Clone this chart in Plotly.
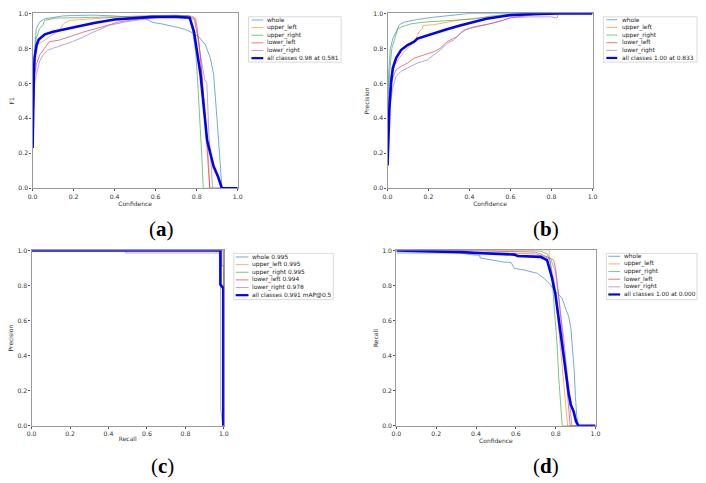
import plotly.graph_objects as go

W, H = 706, 483

CLASSES = ['whole', 'upper_left', 'upper_right', 'lower_left', 'lower_right']
COLORS = ['#1f77b4', '#ff7f0e', '#2ca02c', '#d62728', '#9467bd']
ALL_COLOR = '#0000ff'

# (a) F1 - confidence
f1_whole_x = [0, 0.003, 0.005, 0.01, 0.018, 0.034, 0.058, 0.1, 0.146, 0.2, 0.3, 0.4, 0.5, 0.55, 0.587, 0.63, 0.699, 0.74, 0.771, 0.811, 0.843, 0.867, 0.883, 0.891, 0.899, 0.907, 0.915, 0.923, 1.0]
f1_whole_y = [0.3, 0.5, 0.65, 0.8, 0.913, 0.95, 0.969, 0.975, 0.985, 0.988, 0.99, 0.985, 0.975, 0.97, 0.948, 0.94, 0.922, 0.91, 0.894, 0.866, 0.819, 0.744, 0.65, 0.537, 0.406, 0.274, 0.143, 0.0, 0.0]
f1_uleft_x = [0, 0.005, 0.01, 0.02, 0.05, 0.1, 0.13, 0.14, 0.15, 0.18, 0.3, 0.5, 0.7, 0.77, 0.787, 0.795, 0.811, 0.827, 0.84, 0.851, 0.859, 0.864, 1.0]
f1_uleft_y = [0.3, 0.6, 0.75, 0.82, 0.84, 0.88, 0.9, 0.92, 0.94, 0.96, 0.97, 0.985, 0.99, 0.985, 0.979, 0.931, 0.838, 0.65, 0.462, 0.274, 0.143, 0.0, 0.0]
f1_uright_x = [0, 0.005, 0.0096, 0.018, 0.034, 0.05, 0.058, 0.114, 0.2, 0.4, 0.6, 0.7, 0.763, 0.779, 0.795, 0.803, 0.811, 0.819, 0.827, 0.832, 1.0]
f1_uright_y = [0.3, 0.6, 0.744, 0.856, 0.913, 0.931, 0.96, 0.973, 0.975, 0.98, 0.985, 0.99, 0.988, 0.913, 0.781, 0.65, 0.5, 0.312, 0.143, 0.0, 0.0]
f1_lleft_x = [0, 0.005, 0.01, 0.018, 0.034, 0.058, 0.082, 0.13, 0.178, 0.25, 0.338, 0.418, 0.499, 0.6, 0.7, 0.77, 0.795, 0.803, 0.819, 0.835, 0.846, 0.856, 0.864, 1.0]
f1_lleft_y = [0.3, 0.55, 0.65, 0.706, 0.762, 0.8, 0.838, 0.847, 0.866, 0.894, 0.922, 0.95, 0.965, 0.975, 0.985, 0.98, 0.969, 0.913, 0.744, 0.5, 0.312, 0.143, 0.0, 0.0]
f1_lright_x = [0, 0.005, 0.01, 0.018, 0.034, 0.05, 0.074, 0.098, 0.146, 0.194, 0.25, 0.29, 0.338, 0.37, 0.466, 0.514, 0.6, 0.7, 0.77, 0.79, 0.8, 0.82, 0.84, 0.85, 0.855, 0.86, 0.87, 0.878, 1.0]
f1_lright_y = [0.3, 0.5, 0.6, 0.65, 0.725, 0.762, 0.79, 0.8, 0.819, 0.838, 0.866, 0.89, 0.913, 0.931, 0.954, 0.963, 0.975, 0.98, 0.975, 0.96, 0.9, 0.75, 0.62, 0.6, 0.45, 0.3, 0.15, 0.0, 0.0]
f1_all_x = [0, 0.003, 0.006, 0.01, 0.02, 0.03, 0.06, 0.1, 0.2, 0.3, 0.4, 0.5, 0.581, 0.7, 0.766, 0.787, 0.8, 0.819, 0.835, 0.851, 0.867, 0.883, 0.904, 0.923, 1.0]
f1_all_y = [0.23, 0.5, 0.65, 0.75, 0.82, 0.85, 0.88, 0.895, 0.92, 0.945, 0.965, 0.975, 0.98, 0.98, 0.975, 0.894, 0.79, 0.65, 0.462, 0.274, 0.199, 0.124, 0.068, 0.0, 0.0]

# (b) Precision - confidence
p_whole_x = [0, 0.002, 0.005, 0.014, 0.026, 0.042, 0.058, 0.082, 0.146, 0.226, 0.306, 0.402, 1.0]
p_whole_y = [0.13, 0.45, 0.65, 0.8, 0.856, 0.894, 0.935, 0.95, 0.965, 0.978, 0.988, 1.0, 1.0]
p_uleft_x = [0, 0.005, 0.018, 0.034, 0.058, 0.082, 0.114, 0.138, 0.146, 0.154, 0.17, 0.173, 0.226, 0.306, 0.338, 0.434, 0.5, 0.6, 0.7, 1.0]
p_uleft_y = [0.13, 0.4, 0.65, 0.706, 0.744, 0.781, 0.819, 0.847, 0.875, 0.894, 0.913, 0.931, 0.935, 0.95, 0.96, 0.973, 0.98, 0.99, 1.0, 1.0]
p_uright_x = [0, 0.005, 0.0096, 0.021, 0.034, 0.046, 0.05, 0.066, 0.114, 0.178, 0.306, 0.434, 0.499, 0.6, 0.7, 1.0]
p_uright_y = [0.13, 0.45, 0.65, 0.8, 0.856, 0.894, 0.91, 0.922, 0.94, 0.95, 0.96, 0.969, 0.984, 0.995, 1.0, 1.0]
p_lleft_x = [0, 0.005, 0.0096, 0.026, 0.042, 0.066, 0.098, 0.13, 0.178, 0.226, 0.258, 0.29, 0.338, 0.37, 0.418, 0.498, 0.5625, 0.6, 0.7, 0.8, 1.0]
p_lleft_y = [0.13, 0.4, 0.556, 0.631, 0.678, 0.697, 0.716, 0.744, 0.762, 0.781, 0.8, 0.838, 0.866, 0.903, 0.922, 0.94, 0.96, 0.975, 0.99, 1.0, 1.0]
p_lright_x = [0, 0.005, 0.0096, 0.026, 0.042, 0.066, 0.098, 0.146, 0.194, 0.226, 0.258, 0.29, 0.322, 0.354, 0.386, 0.434, 0.498, 0.5625, 0.6, 0.7, 0.8, 0.827, 0.833, 1.0]
p_lright_y = [0.13, 0.35, 0.462, 0.575, 0.64, 0.669, 0.687, 0.716, 0.734, 0.762, 0.79, 0.828, 0.847, 0.884, 0.909, 0.922, 0.94, 0.96, 0.975, 0.98, 0.98, 0.973, 1.0, 1.0]
p_all_x = [0, 0.002, 0.005, 0.0096, 0.018, 0.026, 0.042, 0.066, 0.098, 0.13, 0.146, 0.194, 0.242, 0.29, 0.354, 0.418, 0.482, 0.5625, 0.6, 0.7, 0.833, 1.0]
p_all_y = [0.13, 0.2, 0.312, 0.462, 0.612, 0.687, 0.744, 0.79, 0.819, 0.838, 0.856, 0.875, 0.89, 0.909, 0.931, 0.95, 0.969, 0.984, 0.99, 0.995, 1.0, 1.0]

# (c) Precision - recall
pr_whole_x = [0, 0.995, 1.0, 1.0]
pr_whole_y = [1.0, 1.0, 1.0, 0.0]
pr_uleft_x = [0, 1.0, 1.0]
pr_uleft_y = [1.0, 1.0, 0.0]
pr_uright_x = [0, 1.0, 1.0]
pr_uright_y = [1.0, 1.0, 0.0]
pr_lleft_x = [0, 0.99, 0.99, 1.0, 1.0]
pr_lleft_y = [1.0, 1.0, 0.912, 0.912, 0.0]
pr_lright_x = [0, 0.49, 0.49, 0.983, 0.983, 0.995]
pr_lright_y = [1.0, 1.0, 0.985, 0.985, 0.1, 0.0]
pr_all_x = [0, 0.982, 0.982, 0.99, 0.997, 0.997]
pr_all_y = [1.0, 1.0, 0.805, 0.79, 0.785, 0.0]

# (d) Recall - confidence
r_whole_x = [0, 0.32, 0.37, 0.419, 0.42, 0.485, 0.535, 0.576, 0.593, 0.642, 0.708, 0.741, 0.766, 0.799, 0.832, 0.848, 0.865, 0.876, 0.886, 0.893, 0.899, 0.906, 0.914, 1.0]
r_whole_y = [0.985, 0.985, 0.976, 0.972, 0.957, 0.944, 0.934, 0.931, 0.897, 0.888, 0.869, 0.841, 0.813, 0.766, 0.729, 0.672, 0.625, 0.56, 0.429, 0.316, 0.167, 0.054, 0.0, 0.0]
r_uleft_x = [0, 0.768, 0.768, 0.79, 0.807, 0.823, 0.837, 0.848, 0.86, 1.0]
r_uleft_y = [1.0, 1.0, 0.95, 0.841, 0.653, 0.466, 0.279, 0.129, 0.0, 0.0]
r_uright_x = [0, 0.6, 0.7, 0.724, 0.757, 0.774, 0.782, 0.794, 0.807, 0.815, 0.823, 0.833, 1.0]
r_uright_y = [1.0, 1.0, 0.998, 0.995, 0.981, 0.934, 0.841, 0.653, 0.466, 0.279, 0.129, 0.0, 0.0]
r_lleft_x = [0, 0.3, 0.5, 0.7, 0.757, 0.79, 0.799, 0.815, 0.832, 0.848, 0.86, 0.873, 1.0]
r_lleft_y = [1.0, 1.0, 0.995, 0.99, 0.963, 0.944, 0.897, 0.747, 0.541, 0.316, 0.167, 0.0, 0.0]
r_lright_x = [0, 0.3, 0.5, 0.7, 0.774, 0.799, 0.823, 0.84, 0.856, 0.87, 0.881, 1.0]
r_lright_y = [1.0, 0.995, 0.985, 0.98, 0.953, 0.878, 0.653, 0.504, 0.316, 0.148, 0.0, 0.0]
r_all_x = [0, 0.2, 0.33, 0.4, 0.51, 0.593, 0.609, 0.724, 0.757, 0.782, 0.799, 0.815, 0.832, 0.848, 0.865, 0.876, 0.89, 0.902, 0.914, 1.0]
r_all_y = [1.0, 0.995, 0.99, 0.985, 0.981, 0.976, 0.968, 0.963, 0.944, 0.841, 0.747, 0.616, 0.466, 0.316, 0.185, 0.12, 0.082, 0.026, 0.0, 0.0]

f1_labels = CLASSES + ['all classes 0.98 at 0.581']
p_labels = CLASSES + ['all classes 1.00 at 0.833']
pr_labels = ['whole 0.995', 'upper_left 0.995', 'upper_right 0.995', 'lower_left 0.994', 'lower_right 0.978', 'all classes 0.991 mAP@0.5']
r_labels = CLASSES + ['all classes 1.00 at 0.000']

# panel boxes in pixels: x0, x1, y_top, y_bottom ; caption centre (x, y)
panels = [
    dict(ax='', box=(28, 236, 9.5, 187), xt='Confidence', yt='F1', cap='a', cap_at=(159, 228),
         curves=[(f1_whole_x, f1_whole_y), (f1_uleft_x, f1_uleft_y), (f1_uright_x, f1_uright_y),
                 (f1_lleft_x, f1_lleft_y), (f1_lright_x, f1_lright_y), (f1_all_x, f1_all_y)],
         labels=f1_labels, leg=(247, 341, 13, 59, 250, 262, 266, 16.2)),
    dict(ax='2', box=(388, 596, 9.5, 187), xt='Confidence', yt='Precision', cap='b', cap_at=(549, 228),
         curves=[(p_whole_x, p_whole_y), (p_uleft_x, p_uleft_y), (p_uright_x, p_uright_y),
                 (p_lleft_x, p_lleft_y), (p_lright_x, p_lright_y), (p_all_x, p_all_y)],
         labels=p_labels, leg=(607, 702, 13, 59, 610, 621, 626, 16.0)),
    dict(ax='3', box=(27, 222, 250, 428), xt='Recall', yt='Precision', cap='c', cap_at=(160, 469),
         curves=[(pr_whole_x, pr_whole_y), (pr_uleft_x, pr_uleft_y), (pr_uright_x, pr_uright_y),
                 (pr_lleft_x, pr_lleft_y), (pr_lright_x, pr_lright_y), (pr_all_x, pr_all_y)],
         labels=pr_labels, leg=(232, 333, 253, 300, 234, 247, 251, 256.7)),
    dict(ax='4', box=(397, 599, 250, 428), xt='Confidence', yt='Recall', cap='d', cap_at=(549, 469),
         curves=[(r_whole_x, r_whole_y), (r_uleft_x, r_uleft_y), (r_uright_x, r_uright_y),
                 (r_lleft_x, r_lleft_y), (r_lright_x, r_lright_y), (r_all_x, r_all_y)],
         labels=r_labels, leg=(610, 702, 253, 300, 612, 624, 628, 256.0)),
]


def px(v):
    return v / W


def py(v):
    return 1 - v / H


fig = go.Figure()
shapes = []
annotations = []
axis_style = dict(range=[0, 1], dtick=0.2, tickformat='.1f', showgrid=False, zeroline=False,
                  showline=True, mirror=True, linecolor='#9a9a9a', linewidth=1.3,
                  ticks='outside', ticklen=2, tickwidth=0.8, tickcolor='#555',
                  tickfont=dict(family='DejaVu Sans', size=6.2, color='#333'))

for p in panels:
    x0, x1, yt, yb = p['box']
    xa = 'xaxis' + p['ax']
    ya = 'yaxis' + p['ax']
    fig.update_layout({
        xa: dict(axis_style, domain=[px(x0), px(x1)], anchor='y' + p['ax'],
                 title=dict(text=p['xt'], font=dict(family='DejaVu Sans', size=6, color='#333'), standoff=0)),
        ya: dict(axis_style, domain=[py(yb), py(yt)], anchor='x' + p['ax'],
                 title=dict(text=p['yt'], font=dict(family='DejaVu Sans', size=6, color='#333'), standoff=3)),
    })
    for i, (cx, cy) in enumerate(p['curves']):
        is_all = i == 5
        fig.add_trace(go.Scatter(
            x=cx, y=cy, mode='lines', xaxis='x' + p['ax'], yaxis='y' + p['ax'],
            line=dict(color=ALL_COLOR if is_all else COLORS[i], width=2.6 if is_all else 1),
            opacity=1 if is_all else 0.6, showlegend=False, hoverinfo='skip'))

    # legend drawn by hand so rows stay as tight as matplotlib's
    lx0, lx1, ly0, ly1, sx0, sx1, tx, row0 = p['leg']
    shapes.append(dict(type='rect', xref='paper', yref='paper', x0=px(lx0), x1=px(lx1),
                       y0=py(ly1), y1=py(ly0), line=dict(color='#d0d0d0', width=0.8),
                       fillcolor='white', layer='above'))
    for i, lab in enumerate(p['labels']):
        ry = row0 + i * 7.75
        is_all = i == 5
        shapes.append(dict(type='line', xref='paper', yref='paper', x0=px(sx0), x1=px(sx1),
                           y0=py(ry), y1=py(ry), layer='above', opacity=1 if is_all else 0.6,
                           line=dict(color=ALL_COLOR if is_all else COLORS[i], width=2.2 if is_all else 1)))
        annotations.append(dict(text=lab, xref='paper', yref='paper', x=px(tx - 2), y=py(ry),
                                xanchor='left', yanchor='middle', showarrow=False,
                                font=dict(family='DejaVu Sans', size=5.9, color='#222')))

    cx_, cy_ = p['cap_at']
    annotations.append(dict(text='(<b>%s</b>)' % p['cap'], xref='paper', yref='paper',
                            x=px(cx_), y=py(cy_), xanchor='center', yanchor='middle',
                            showarrow=False, font=dict(family='Liberation Serif', size=21, color='#000')))

fig.update_layout(width=W, height=H, margin=dict(l=0, r=0, t=0, b=0),
                  plot_bgcolor='white', paper_bgcolor='white', showlegend=False,
                  shapes=shapes, annotations=annotations)

# the page's default 8px body margin would shift the whole figure
fig.write_html('out.html', config={'displayModeBar': False},
               post_script="document.body.style.margin='0';")
